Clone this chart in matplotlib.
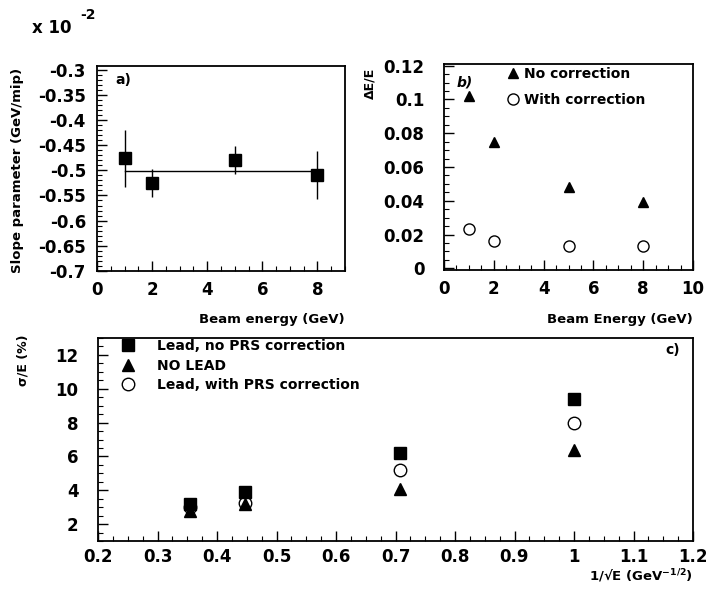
import matplotlib
matplotlib.use('Agg')
import matplotlib.pyplot as plt
from matplotlib.ticker import MultipleLocator, FuncFormatter

W, H = 707, 598

# a) slope parameter vs beam energy
energy_a = [1, 2, 5, 8]
slope = [-0.476, -0.525, -0.479, -0.510]
slope_err = [0.057, 0.028, 0.028, 0.048]
slope_fit = -0.501

# b) dE/E vs beam energy
energy_b = [1, 2, 5, 8]
de_nocorr = [0.102, 0.075, 0.048, 0.039]
de_corr = [0.023, 0.016, 0.013, 0.013]

# c) resolution vs 1/sqrt(E)
inv_sqrt_e = [0.354, 0.447, 0.707, 1.0]
res_lead = [3.2, 3.9, 6.2, 9.4]
res_nolead = [2.8, 3.2, 4.1, 6.4]
res_lead_corr = [3.0, 3.25, 5.2, 8.0]

plt.rcParams['font.family'] = ['DejaVu Sans']
plt.rcParams['font.weight'] = 'bold'
plt.rcParams['mathtext.default'] = 'bf'


def box(x0, y0, x1, y1):
    # pixel box -> figure fraction
    return [x0 / W, 1 - y1 / H, (x1 - x0) / W, (y1 - y0) / H]


def fpos(x, y):
    return x / W, 1 - y / H


fmt = FuncFormatter(lambda v, p: '%g' % round(v, 4))


def style(ax, xmaj, xmin, ymaj, ymin, xpad, ypad):
    ax.xaxis.set_major_locator(MultipleLocator(xmaj))
    ax.xaxis.set_minor_locator(MultipleLocator(xmin))
    ax.yaxis.set_major_locator(MultipleLocator(ymaj))
    ax.yaxis.set_minor_locator(MultipleLocator(ymin))
    ax.xaxis.set_major_formatter(fmt)
    ax.yaxis.set_major_formatter(fmt)
    ax.tick_params(which='both', direction='in', top=False, right=False, labelsize=12)
    ax.tick_params(which='major', length=7, width=1)
    ax.tick_params(which='minor', length=3.5, width=0.8)
    ax.tick_params(axis='x', pad=xpad)
    ax.tick_params(axis='y', pad=ypad)
    for s in ax.spines.values():
        s.set_linewidth(1.3)


fig = plt.figure(figsize=(W / 100, H / 100), dpi=100)

# ---- a)
ax_a = fig.add_axes(box(97, 66, 345, 271))
ax_a.errorbar(energy_a, slope, yerr=slope_err, fmt='s', color='k', ms=8,
              elinewidth=1, capsize=0, zorder=3)
ax_a.plot([min(energy_a), max(energy_a)], [slope_fit, slope_fit], 'k-', lw=1, zorder=2)
ax_a.set_xlim(0, 9)
ax_a.set_ylim(-0.7005, -0.292)
style(ax_a, 2, 0.5, 0.05, 0.01, 7, 8)

# ---- b)
ax_b = fig.add_axes(box(444, 64, 693, 270))
ax_b.plot(energy_b, de_nocorr, 'k^', ms=7, label='No correction')
ax_b.plot(energy_b, de_corr, 'o', mfc='none', mec='k', mew=1, ms=8, label='With correction')
ax_b.set_xlim(0, 10)
ax_b.set_ylim(-0.001, 0.121)
style(ax_b, 2, 0.5, 0.02, 0.005, 7, 14)
ax_b.legend(loc='upper left', bbox_to_anchor=fpos(506, 67), bbox_transform=fig.transFigure,
            frameon=False, borderpad=0, borderaxespad=0, handlelength=1, handletextpad=0.3,
            labelspacing=0.85, numpoints=1, prop={'size': 10, 'weight': 'bold'})

# ---- c)
ax_c = fig.add_axes(box(98, 338, 693, 541))
ax_c.plot(inv_sqrt_e, res_nolead, 'k^', ms=8, label='NO LEAD')
ax_c.plot(inv_sqrt_e, res_lead_corr, 'o', mfc='none', mec='k', mew=1, ms=9,
          label='Lead, with PRS correction')
ax_c.plot(inv_sqrt_e, res_lead, 'ks', ms=8, label='Lead, no PRS correction')
ax_c.set_xlim(0.2, 1.2)
ax_c.set_ylim(1, 13)
style(ax_c, 0.1, 0.025, 2, 0.5, 5, 14)
hs, ls = ax_c.get_legend_handles_labels()
order = [2, 0, 1]
ax_c.legend([hs[i] for i in order], [ls[i] for i in order], loc='upper left',
            bbox_to_anchor=fpos(114, 339), bbox_transform=fig.transFigure,
            frameon=False, borderpad=0, borderaxespad=0, handlelength=2, handletextpad=1.1,
            labelspacing=0.4, numpoints=1, prop={'size': 10, 'weight': 'bold'})

# labels
fig.text(*fpos(32, 28), 'x 10', fontsize=12, va='center', ha='left')
fig.text(*fpos(80, 15), '-2', fontsize=10, va='center', ha='left')
fig.text(*fpos(18, 68), 'Slope parameter (GeV/mip)', rotation=90, fontsize=9.5,
         ha='center', va='top')
fig.text(*fpos(345, 320), 'Beam energy (GeV)', fontsize=9.5, ha='right', va='center')
fig.text(*fpos(370, 68), 'ΔE/E', rotation=90, fontsize=9, ha='center', va='top')
fig.text(*fpos(693, 320), 'Beam Energy (GeV)', fontsize=9.5, ha='right', va='center')
fig.text(*fpos(23, 334), 'σ/E (%)', rotation=90, fontsize=9, ha='center', va='top')
fig.text(*fpos(693, 576), '1/√E (GeV$^{-1/2}$)', fontsize=9.5, ha='right', va='center')
fig.text(*fpos(123, 80), 'a)', fontsize=10, ha='center', va='center')
fig.text(*fpos(465, 82), 'b)', fontsize=10, ha='center', va='center', style='italic')
fig.text(*fpos(673, 350), 'c)', fontsize=10, ha='center', va='center')

fig.savefig('out.png', dpi=100)
